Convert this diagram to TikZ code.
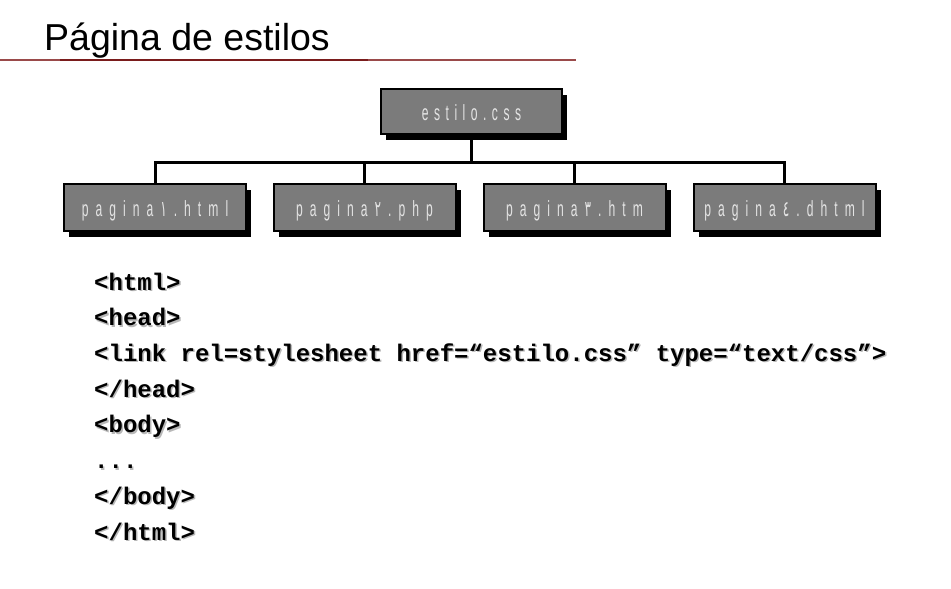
\documentclass[tikz,border=0pt]{standalone}
\usepackage{fontspec}
\usetikzlibrary{shadows}
\setmainfont{Liberation Sans}
\newfontfamily\codefont{Liberation Mono}
\newfontfamily\boxfont[FakeStretch=0.55,LetterSpace=32]{Liberation Sans}
\newfontfamily\boxdig[FakeStretch=0.55]{DejaVu Sans}
\newfontfamily\topfont[FakeStretch=0.55,LetterSpace=25]{Liberation Sans}
\definecolor{boxgray}{HTML}{7B7B7B}
\definecolor{boxtext}{HTML}{E4E4E4}
\definecolor{rulered}{HTML}{7A1C1C}
\definecolor{rulelight}{HTML}{9A4A4A}
\definecolor{codeshadow}{HTML}{B8B8B8}
\newcommand{\shd}[1]{\rlap{\kern1.5pt\raisebox{-1.5pt}{\textcolor{codeshadow}{#1}}}#1}
\newcommand{\dig}[1]{\kern7pt{\boxdig #1}\kern7pt}
\begin{document}
\begin{tikzpicture}[x=1pt,y=-1pt,
  pagebox/.style={draw=black, line width=2pt, fill=boxgray, minimum width=182pt,
    minimum height=47pt, inner sep=0pt, text height=17pt, text depth=0pt,
    text=boxtext, font={\fontsize{22}{22}\selectfont\boxfont},
    drop shadow={shadow xshift=5pt, shadow yshift=-6pt, fill=black, opacity=1}},
  conn/.style={line width=3pt, draw=black},
  codeline/.style={anchor=base west, inner sep=0pt,
    font={\fontsize{24}{24}\selectfont\codefont\bfseries}}]
\useasboundingbox[fill=white] (0,0) rectangle (951,589);
% title
\node[anchor=base west, inner sep=0pt, font={\fontsize{37.5}{37.5}\selectfont}] (title) at (44,50) {Página de estilos};
\draw[rulelight, line width=1.3pt] (0,60) -- (576,60);
\draw[rulered, line width=1.3pt] (60,60) -- (368,60);
% boxes
\node[pagebox, minimum width=181pt, minimum height=45pt,
  font={\fontsize{22}{22}\selectfont\topfont}] (css) at (471.5,111.5) {estilo.css};
\node[pagebox] (p1) at (155,207.5) {pagina\dig{١}.html};
\node[pagebox] (p2) at (364.5,207.5) {pagina\dig{٢}.php};
\node[pagebox] (p3) at (574.5,207.5) {pagina\dig{٣}.htm};
\node[pagebox] (p4) at (784.5,207.5) {pagina\dig{٤}.dhtml};
% connectors
\coordinate (bar) at (471.5,162);
\draw[conn] (p1.north) |- (p4.north |- bar) -- (p4.north);
\draw[conn] (p2.north) -- (p2.north |- bar);
\draw[conn] (p3.north) -- (p3.north |- bar);
\draw[conn] (css.south) -- (css.south |- bar);
% code
\node[codeline] (c1) at (94,290) {\shd{<html>}};
\node[codeline] (c2) at (94,325.7) {\shd{<head>}};
\node[codeline] (c3) at (94,361.4) {\shd{<link rel=stylesheet href=“estilo.css” type=“text/css”>}};
\node[codeline] (c4) at (94,397.1) {\shd{</head>}};
\node[codeline] (c5) at (94,432.8) {\shd{<body>}};
\node[codeline] (c6) at (94,468.5) {\shd{...}};
\node[codeline] (c7) at (94,504.2) {\shd{</body>}};
\node[codeline] (c8) at (94,540) {\shd{</html>}};
\end{tikzpicture}
\end{document}
